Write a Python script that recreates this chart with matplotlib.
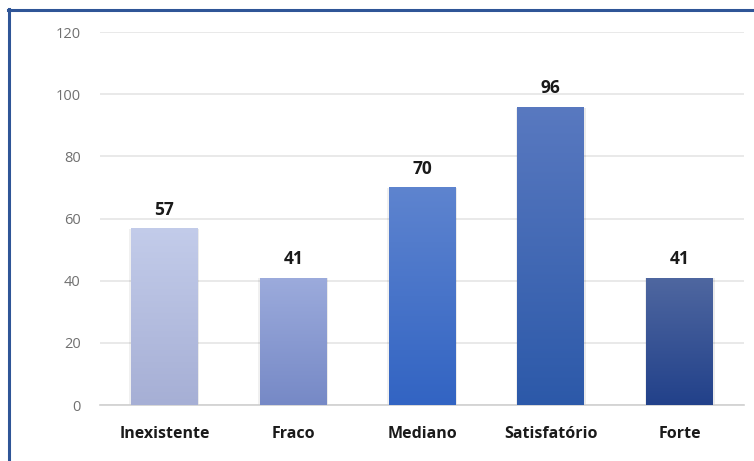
import matplotlib
matplotlib.use("Agg")
import matplotlib.pyplot as plt
import numpy as np
from matplotlib.colors import LinearSegmentedColormap
from matplotlib.patches import Rectangle
from matplotlib.lines import Line2D

categories = ["Inexistente", "Fraco", "Mediano", "Satisfatório", "Forte"]
values = [57, 41, 70, 96, 41]
yticks = [0, 20, 40, 60, 80, 100, 120]
top_colors = ["#C3CCEA", "#9CABDC", "#5E84CF", "#5979C0", "#4F67A0"]
bottom_colors = ["#A6AFD5", "#7689C6", "#3264C3", "#2C59A9", "#22418A"]

plt.rcParams['font.family'] = ['Open Sans', 'DejaVu Sans']

fig = plt.figure(figsize=(7.54, 4.61), dpi=100)
ax = fig.add_axes([100/754, 56/461, 644/754, (405-32)/461])
ax.set_xlim(-0.5, len(categories) - 0.5)
ax.set_ylim(0, 120)

width = 0.52
for i, (v, ct, cb) in enumerate(zip(values, top_colors, bottom_colors)):
    for dx, a in [(-0.012, 0.06), (0.012, 0.08)]:
        sh = Rectangle((i - width/2 + dx, 0), width, v - 0.3, facecolor="#000000",
                       alpha=a, edgecolor="none", zorder=2)
        ax.add_patch(sh)
    rect = Rectangle((i - width/2, 0), width, v, facecolor="none", edgecolor="none", zorder=3)
    ax.add_patch(rect)
    cmap = LinearSegmentedColormap.from_list("g%d" % i, [cb, ct])
    grad = np.linspace(0, 1, 256).reshape(-1, 1)
    im = ax.imshow(grad, extent=[i - width/2, i + width/2, 0, v], origin="lower",
                   aspect="auto", cmap=cmap, zorder=3)
    im.set_clip_path(rect)
    ax.text(i, v + 3, str(v), ha="center", va="bottom", fontsize=12.5,
            fontweight="bold", color="#1a1a1a", zorder=4)

ax.set_xlim(-0.5, len(categories) - 0.5)
ax.set_ylim(0, 120)
ax.set_yticks(yticks)
ax.set_yticklabels([str(t) for t in yticks], fontsize=10.5, color="#707070")
ax.set_xticks(range(len(categories)))
ax.set_xticklabels(categories, fontsize=11.5, fontweight="bold", color="#1a1a1a")
ax.tick_params(axis="both", length=0)
ax.tick_params(axis="y", pad=14)
ax.tick_params(axis="x", pad=15)
ax.grid(axis="y", color="#E3E3E3", linewidth=1.1, zorder=0)
ax.set_axisbelow(True)
for s in ["top", "right", "left"]:
    ax.spines[s].set_visible(False)
ax.spines["bottom"].set_color("#D0D0D0")
ax.spines["bottom"].set_linewidth(1.2)

# border
bc = "#2F5597"
fig.add_artist(Line2D([9/754, 9/754], [0, 1 - 9/461], color=bc, linewidth=2.2,
                      transform=fig.transFigure))
fig.add_artist(Line2D([8/754, 1], [1 - 10/461, 1 - 10/461], color=bc, linewidth=2.2,
                      transform=fig.transFigure))

fig.savefig("out.png", dpi=100)
